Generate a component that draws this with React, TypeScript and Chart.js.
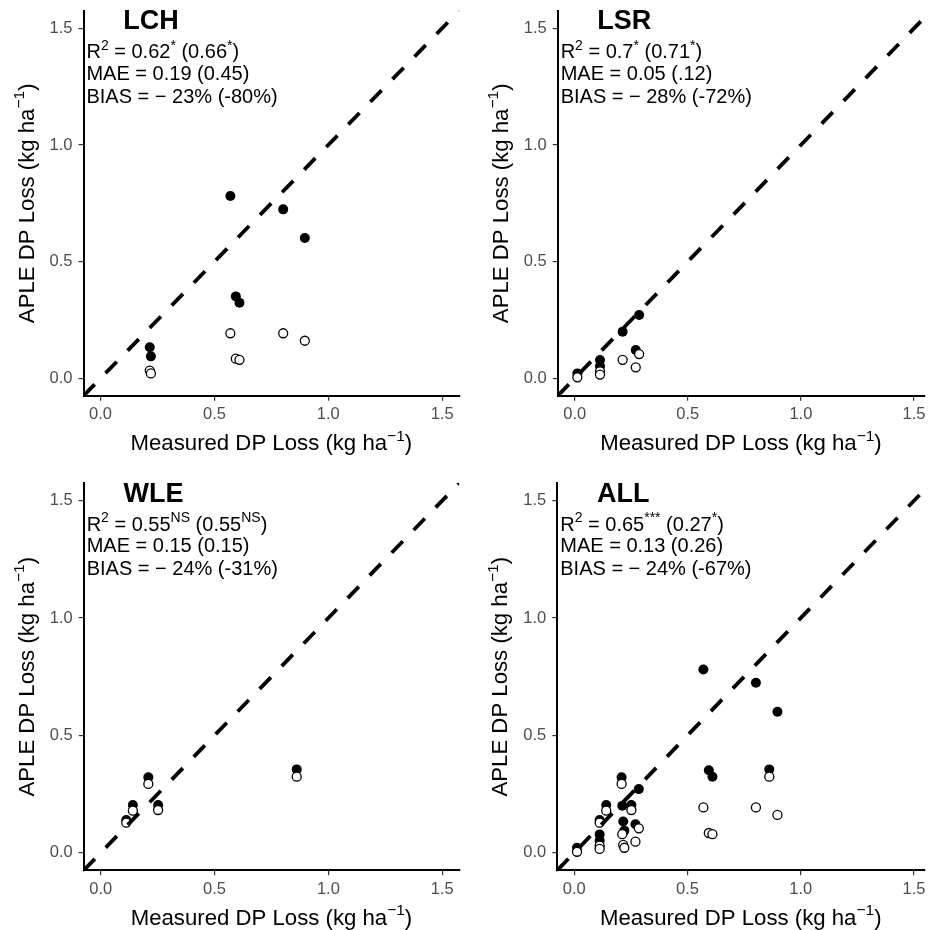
import React, { useEffect, useRef } from "react";
import { Chart, registerables } from "chart.js";

Chart.register(...registerables);

const FONT = '"Liberation Sans", Arial, Helvetica, sans-serif';

// ---------- data ----------
const PANEL_NAMES = ["LCH", "LSR", "WLE", "ALL"];

const R2_MAIN = ["0.62", "0.7", "0.55", "0.65"];
const R2_MAIN_SIG = ["*", "*", "NS", "***"];
const R2_ALT = ["0.66", "0.71", "0.55", "0.27"];
const R2_ALT_SIG = ["*", "*", "NS", "*"];
const MAE_MAIN = ["0.19", "0.05", "0.15", "0.13"];
const MAE_ALT = ["0.45", ".12", "0.15", "0.26"];
const BIAS_MAIN = ["23", "28", "24", "24"];
const BIAS_ALT = ["-80", "-72", "-31", "-67"];

const LCH_MEASURED = [0.57, 0.802, 0.897, 0.594, 0.61, 0.216, 0.221];
const LCH_APLE_FILLED = [0.781, 0.724, 0.601, 0.351, 0.324, 0.133, 0.094];
const LCH_APLE_OPEN = [0.193, 0.193, 0.161, 0.084, 0.079, 0.033, 0.021];

const LSR_MEASURED = [0.012, 0.112, 0.112, 0.212, 0.27, 0.285];
const LSR_APLE_FILLED = [0.021, 0.078, 0.052, 0.2, 0.121, 0.271];
const LSR_APLE_OPEN = [0.004, 0.03, 0.016, 0.079, 0.047, 0.104];

const WLE_MEASURED = [0.861, 0.209, 0.141, 0.252, 0.112];
const WLE_APLE_FILLED = [0.355, 0.321, 0.203, 0.203, 0.139];
const WLE_APLE_OPEN = [0.324, 0.293, 0.179, 0.182, 0.128];

const AXIS_TICKS = [0, 0.5, 1.0, 1.5];
const AXIS_MIN = -0.075;
const AXIS_MAX = 1.575;
const AXIS_MAX_CROPPED = 1.545;
const ONE_TO_ONE = [-0.075, 1.575];

const X_TITLE = "Measured DP Loss (kg ha";
const Y_TITLE = "APLE DP Loss (kg ha";
const UNIT_SUP = "\u22121";

const ALL_MEASURED = [...LCH_MEASURED, ...LSR_MEASURED, ...WLE_MEASURED];
const ALL_APLE_FILLED = [...LCH_APLE_FILLED, ...LSR_APLE_FILLED, ...WLE_APLE_FILLED];
const ALL_APLE_OPEN = [...LCH_APLE_OPEN, ...LSR_APLE_OPEN, ...WLE_APLE_OPEN];

const SERIES = [
  [LCH_MEASURED, LCH_APLE_FILLED, LCH_APLE_OPEN],
  [LSR_MEASURED, LSR_APLE_FILLED, LSR_APLE_OPEN],
  [WLE_MEASURED, WLE_APLE_FILLED, WLE_APLE_OPEN],
  [ALL_MEASURED, ALL_APLE_FILLED, ALL_APLE_OPEN],
];

// ---------- layout ----------
const CANVAS = 465;
const LAYOUTS = [
  { left: 0, top: 0, L: 83.5, R: 462.3, T: 10.8, B: 395.8, xMax: AXIS_MAX },
  { left: 465, top: 0, L: 92.7, R: 463, T: 10.8, B: 395.8, xMax: AXIS_MAX_CROPPED },
  { left: 0, top: 465, L: 83.7, R: 463.2, T: 18.1, B: 405.3, xMax: AXIS_MAX },
  { left: 465, top: 465, L: 92.3, R: 463, T: 18.1, B: 405.3, xMax: AXIS_MAX_CROPPED },
];

type Seg = { t: string; sup?: boolean };

function segWidth(ctx: CanvasRenderingContext2D, segs: Seg[], size: number, weight: string) {
  let w = 0;
  for (const s of segs) {
    const fs = s.sup ? size * 0.7 : size;
    ctx.font = `${weight} ${fs}px ${FONT}`;
    w += ctx.measureText(s.t).width;
  }
  return w;
}

function drawRich(
  ctx: CanvasRenderingContext2D,
  segs: Seg[],
  x: number,
  y: number,
  size: number,
  weight = "normal",
  align: "left" | "center" = "left"
) {
  let cx = x;
  if (align === "center") cx = x - segWidth(ctx, segs, size, weight) / 2;
  ctx.textAlign = "left";
  ctx.textBaseline = "alphabetic";
  for (const s of segs) {
    const fs = s.sup ? size * 0.7 : size;
    ctx.font = `${weight} ${fs}px ${FONT}`;
    const dy = s.sup ? -size * 0.42 : 0;
    ctx.fillText(s.t, cx, y + dy);
    cx += ctx.measureText(s.t).width;
  }
}

function Panel({ index }: { index: number }) {
  const ref = useRef<HTMLCanvasElement | null>(null);

  useEffect(() => {
    const canvas = ref.current;
    if (!canvas) return;
    const lay = LAYOUTS[index];
    const [xs, filled, open] = SERIES[index];

    const textPlugin = {
      id: "panelText" + index,
      afterDraw(chart: any) {
        const ctx: CanvasRenderingContext2D = chart.ctx;
        const xs_ = chart.scales.x;
        const ca = chart.chartArea;
        ctx.save();
        ctx.fillStyle = "#000";
        // panel title
        drawRich(ctx, [{ t: PANEL_NAMES[index] }], xs_.getPixelForValue(0.1), ca.top + 18.5, 27, "bold");
        // annotation
        const ax = xs_.getPixelForValue(-0.062);
        drawRich(
          ctx,
          [
            { t: "R" },
            { t: "2", sup: true },
            { t: " = " + R2_MAIN[index] },
            { t: R2_MAIN_SIG[index], sup: true },
            { t: " (" + R2_ALT[index] },
            { t: R2_ALT_SIG[index], sup: true },
            { t: ")" },
          ],
          ax,
          ca.top + 47.5,
          20
        );
        drawRich(ctx, [{ t: "MAE = " + MAE_MAIN[index] + " (" + MAE_ALT[index] + ")" }], ax, ca.top + 69, 20);
        drawRich(
          ctx,
          [{ t: "BIAS = \u2212 " + BIAS_MAIN[index] + "% (" + BIAS_ALT[index] + "%)" }],
          ax,
          ca.top + 92,
          20
        );
        // x axis title
        drawRich(
          ctx,
          [{ t: X_TITLE }, { t: UNIT_SUP, sup: true }, { t: ")" }],
          (ca.left + ca.right) / 2,
          ca.bottom + 54.5,
          22.2,
          "normal",
          "center"
        );
        // y axis title
        ctx.translate(ca.left - 50, (ca.top + ca.bottom) / 2);
        ctx.rotate(-Math.PI / 2);
        drawRich(ctx, [{ t: Y_TITLE }, { t: UNIT_SUP, sup: true }, { t: ")" }], 0, 0, 22.2, "normal", "center");
        ctx.restore();
      },
    };

    const tickFont = { family: FONT, size: 16.5 };
    const axisCommon = {
      type: "linear" as const,
      min: AXIS_MIN,
      afterBuildTicks: (s: any) => {
        s.ticks = AXIS_TICKS.map((v) => ({ value: v }));
      },
      grid: {
        display: true,
        drawOnChartArea: false,
        drawTicks: true,
        tickLength: 5,
        color: "#333",
        tickColor: "#333",
        lineWidth: 1.2,
      },
      border: { display: true, color: "#000", width: 2 },
    };

    const chart = new Chart(canvas, {
      type: "scatter",
      data: {
        datasets: [
          {
            data: ONE_TO_ONE.map((v) => ({ x: v, y: v })),
            showLine: true,
            borderColor: "#000",
            borderWidth: 3.8,
            borderDash: [16, 15.6],
            borderCapStyle: "butt",
            pointRadius: 0,
            order: 0,
            clip: 0,
          } as any,
          {
            data: xs.map((x, i) => ({ x, y: open[i] })),
            pointRadius: 4.5,
            pointBorderWidth: 1.3,
            backgroundColor: "#fff",
            borderColor: "#000",
            order: 1,
          },
          {
            data: xs.map((x, i) => ({ x, y: filled[i] })),
            pointRadius: 5,
            pointBorderWidth: 0,
            backgroundColor: "#000",
            borderColor: "#000",
            order: 2,
          },
        ],
      },
      options: {
        animation: false,
        responsive: false,
        devicePixelRatio: 1,
        events: [],
        layout: { padding: { top: lay.T, right: CANVAS - lay.R, left: 0, bottom: 0 } },
        plugins: { legend: { display: false }, tooltip: { enabled: false } },
        scales: {
          x: {
            ...axisCommon,
            max: lay.xMax,
            afterFit: (s: any) => {
              s.height = CANVAS - lay.B;
              s.paddingLeft = 0;
              s.paddingRight = 0;
            },
            ticks: {
              color: "#4d4d4d",
              font: tickFont,
              padding: 4,
              maxRotation: 0,
              autoSkip: false,
              callback: (v: any) => Number(v).toFixed(1),
            },
          },
          y: {
            ...axisCommon,
            max: AXIS_MAX,
            afterFit: (s: any) => {
              s.width = lay.L;
              s.paddingTop = 0;
              s.paddingBottom = 0;
            },
            ticks: {
              color: "#4d4d4d",
              font: tickFont,
              padding: 6,
              autoSkip: false,
              callback: (v: any) => Number(v).toFixed(1),
            },
          },
        },
      } as any,
      plugins: [textPlugin],
    });

    return () => chart.destroy();
  }, [index]);

  const lay = LAYOUTS[index];
  return (
    <canvas
      ref={ref}
      width={CANVAS}
      height={CANVAS}
      style={{ position: "absolute", left: lay.left, top: lay.top, width: CANVAS, height: CANVAS }}
    />
  );
}

export default function App() {
  return (
    <div style={{ position: "absolute", left: 0, top: 0, width: 930, height: 930, background: "#fff" }}>
      {PANEL_NAMES.map((_, i) => (
        <Panel key={i} index={i} />
      ))}
    </div>
  );
}
